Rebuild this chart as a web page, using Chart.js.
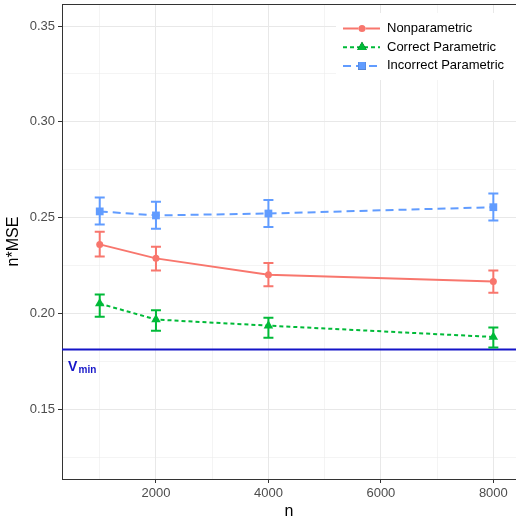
<!DOCTYPE html>
<html>
<head>
<meta charset="utf-8">
<script src="https://cdn.jsdelivr.net/npm/chart.js@4/dist/chart.umd.min.js"></script>
<style>
  html, body { margin: 0; padding: 0; background: #fff; }
  canvas { display: block; }
</style>
</head>
<body>
<canvas id="mseChart" width="516" height="521"></canvas>
<script>
// sample sizes
const nValues = [1000, 2000, 4000, 8000];

// n*MSE estimates with error bar bounds
const nonparMean = [0.2361, 0.2288, 0.2203, 0.2167];
const nonparLow  = [0.2298, 0.2225, 0.2142, 0.2109];
const nonparHigh = [0.2427, 0.2349, 0.2264, 0.2225];

const corrMean = [0.2052, 0.1969, 0.1937, 0.1878];
const corrLow  = [0.1984, 0.1910, 0.1874, 0.1823];
const corrHigh = [0.2100, 0.2017, 0.1978, 0.1927];

const incMean = [0.2533, 0.2512, 0.2522, 0.2555];
const incLow  = [0.2465, 0.2443, 0.2451, 0.2486];
const incHigh = [0.2606, 0.2583, 0.2592, 0.2627];

const vMin = 0.1812;

// axis ticks (major ones get labels)
const xTicks = [1000, 2000, 3000, 4000, 5000, 6000, 7000, 8000];
const xMajor = [2000, 4000, 6000, 8000];
const yTicks = [0.125, 0.15, 0.175, 0.2, 0.225, 0.25, 0.275, 0.3, 0.325, 0.35];
const yMajor = [0.15, 0.2, 0.25, 0.3, 0.35];

const seriesNames = ['Nonparametric', 'Correct Parametric', 'Incorrect Parametric'];

const isMajor = (list, v) => list.some(m => Math.abs(m - v) < 1e-9);

function toPoints(ys) {
    return nValues.map((x, i) => ({ x: x, y: ys[i] }));
}

const seriesStyle = [
    { color: '#F8766D', dash: [], point: 'circle', radius: 3.5 },
    { color: '#00BA38', dash: [4, 3], point: 'triangle', radius: 5.5 },
    { color: '#619CFF', dash: [8, 5], point: 'rect', radius: 5.5 }
];
const bounds = [
    [nonparLow, nonparHigh],
    [corrLow, corrHigh],
    [incLow, incHigh]
];

// error bars, drawn through the scales
const errorBars = {
    id: 'errorBars',
    afterDatasetsDraw(chart) {
        const ctx = chart.ctx;
        const xs = chart.scales.x, ys = chart.scales.y;
        ctx.save();
        bounds.forEach((b, s) => {
            ctx.strokeStyle = seriesStyle[s].color;
            ctx.lineWidth = 2;
            ctx.setLineDash([]);
            nValues.forEach((n, i) => {
                const px = xs.getPixelForValue(n);
                const lo = ys.getPixelForValue(b[0][i]);
                const hi = ys.getPixelForValue(b[1][i]);
                ctx.beginPath();
                ctx.moveTo(px, lo); ctx.lineTo(px, hi);
                ctx.moveTo(px - 5, lo); ctx.lineTo(px + 5, lo);
                ctx.moveTo(px - 5, hi); ctx.lineTo(px + 5, hi);
                ctx.stroke();
            });
        });
        ctx.restore();
    }
};

// V_min reference line + label, titles, top border, legend
const decorations = {
    id: 'decorations',
    beforeDatasetsDraw(chart) {
        const ctx = chart.ctx, area = chart.chartArea;
        const y = chart.scales.y.getPixelForValue(vMin);
        ctx.save();
        ctx.strokeStyle = '#1414C8';
        ctx.lineWidth = 2;
        ctx.beginPath();
        ctx.moveTo(area.left, y);
        ctx.lineTo(area.right, y);
        ctx.stroke();
        ctx.fillStyle = '#1414C8';
        ctx.textBaseline = 'alphabetic';
        ctx.font = 'bold 14px "Liberation Sans", Arial, sans-serif';
        ctx.fillText('V', area.left + 6, y + 21);
        ctx.font = 'bold 10px "Liberation Sans", Arial, sans-serif';
        ctx.fillText('min', area.left + 16.5, y + 23);
        ctx.restore();
    },
    afterDraw(chart) {
        const ctx = chart.ctx, area = chart.chartArea;
        ctx.save();
        // top border
        ctx.strokeStyle = '#333333';
        ctx.lineWidth = 1;
        ctx.beginPath();
        ctx.moveTo(area.left, area.top + 0.5);
        ctx.lineTo(area.right, area.top + 0.5);
        ctx.stroke();

        // axis titles
        ctx.fillStyle = '#000';
        ctx.font = '16px "Liberation Sans", Arial, sans-serif';
        ctx.textAlign = 'center';
        ctx.textBaseline = 'middle';
        ctx.fillText('n', (area.left + area.right) / 2, 512);
        ctx.translate(14, (area.top + area.bottom) / 2);
        ctx.rotate(-Math.PI / 2);
        ctx.fillText('n*MSE', 0, 0);
        ctx.setTransform(1, 0, 0, 1, 0, 0);

        // legend
        ctx.fillStyle = '#fff';
        ctx.fillRect(336, 13, 180, 67);
        ctx.font = '13px "Liberation Sans", Arial, sans-serif';
        ctx.textAlign = 'left';
        ctx.textBaseline = 'middle';
        seriesNames.forEach((name, i) => {
            const st = seriesStyle[i];
            const ly = 28.5 + i * 18.7;
            ctx.strokeStyle = st.color;
            ctx.lineWidth = 2;
            ctx.setLineDash(st.dash);
            ctx.beginPath();
            ctx.moveTo(343, ly);
            ctx.lineTo(380, ly);
            ctx.stroke();
            ctx.setLineDash([]);
            Chart.helpers.drawPoint(ctx, {
                pointStyle: st.point, radius: st.radius, rotation: 0, borderWidth: 0
            }, 362, ly);
            ctx.fillStyle = st.color;
            ctx.fill();
            ctx.fillStyle = '#000';
            ctx.fillText(name, 387, ly);
        });
        ctx.restore();
    }
};

const means = [nonparMean, corrMean, incMean];

new Chart(document.getElementById('mseChart').getContext('2d'), {
    type: 'line',
    data: {
        datasets: means.map((m, i) => ({
            label: seriesNames[i],
            data: toPoints(m),
            borderColor: seriesStyle[i].color,
            backgroundColor: seriesStyle[i].color,
            borderWidth: 2,
            borderDash: seriesStyle[i].dash,
            pointStyle: seriesStyle[i].point,
            pointRadius: seriesStyle[i].radius,
            pointBorderWidth: 0,
            tension: 0,
            fill: false
        }))
    },
    options: {
        responsive: false,
        animation: false,
        layout: { autoPadding: false, padding: { top: 4, left: 0, right: 0, bottom: 0 } },
        plugins: {
            legend: { display: false },
            tooltip: { enabled: false }
        },
        scales: {
            x: {
                type: 'linear',
                min: 329,
                max: 8403,
                afterBuildTicks: s => { s.ticks = xTicks.map(v => ({ value: v })); },
                afterFit: s => { s.height = 42; s.paddingLeft = 0; s.paddingRight = 0; },
                ticks: {
                    color: '#4D4D4D',
                    font: { size: 13, family: '"Liberation Sans", Arial, sans-serif' },
                    padding: 3,
                    maxRotation: 0,
                    autoSkip: false,
                    callback: v => isMajor(xMajor, v) ? String(v) : ''
                },
                grid: {
                    color: '#E8E8E8',
                    lineWidth: c => isMajor(xMajor, c.tick.value) ? 1 : 0.5,
                    tickColor: c => isMajor(xMajor, c.tick.value) ? '#333333' : 'rgba(0,0,0,0)',
                    tickLength: 4,
                    tickWidth: 1
                },
                border: { color: '#333333', width: 1 }
            },
            y: {
                type: 'linear',
                min: 0.1137,
                max: 0.3615,
                afterBuildTicks: s => { s.ticks = yTicks.map(v => ({ value: v })); },
                afterFit: s => { s.width = 62; s.paddingTop = 0; s.paddingBottom = 0; },
                ticks: {
                    color: '#4D4D4D',
                    font: { size: 13, family: '"Liberation Sans", Arial, sans-serif' },
                    padding: 3,
                    autoSkip: false,
                    callback: v => isMajor(yMajor, v) ? v.toFixed(2) : ''
                },
                grid: {
                    color: '#E8E8E8',
                    lineWidth: c => isMajor(yMajor, c.tick.value) ? 1 : 0.5,
                    tickColor: c => isMajor(yMajor, c.tick.value) ? '#333333' : 'rgba(0,0,0,0)',
                    tickLength: 4,
                    tickWidth: 1
                },
                border: { color: '#333333', width: 1 }
            }
        }
    },
    plugins: [decorations, errorBars]
});
</script>
</body>
</html>
